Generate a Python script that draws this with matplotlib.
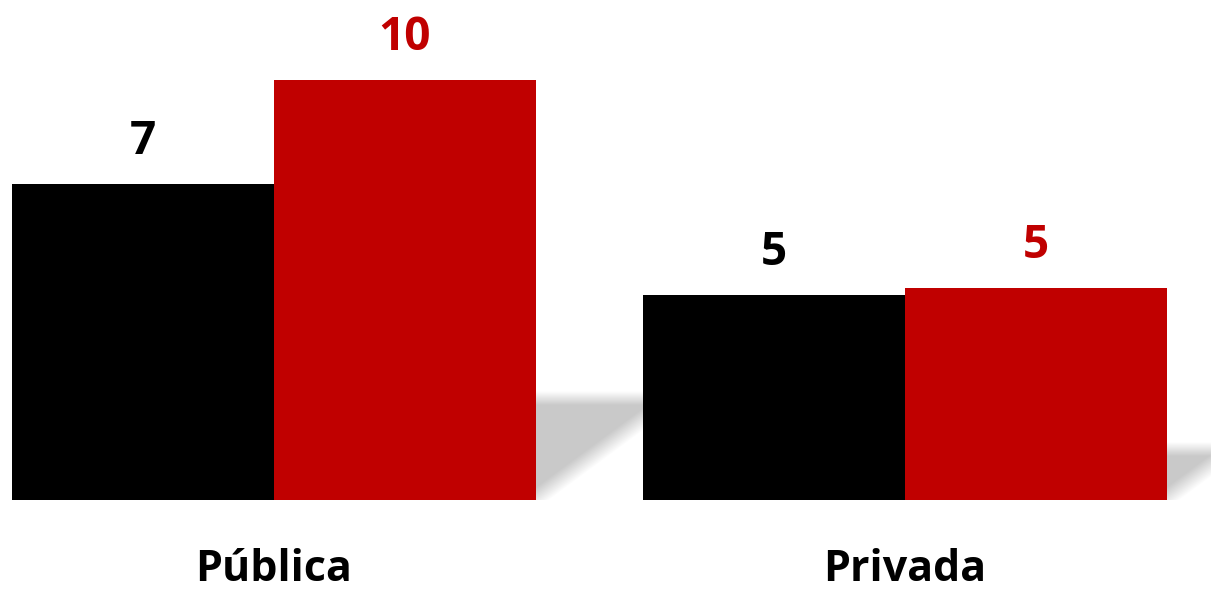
import matplotlib.pyplot as plt
import numpy as np

categories = ['Pública', 'Privada']
serie_a = [7.35, 4.77]   # barras pretas
serie_b = [9.77, 4.93]   # barras vermelhas

COR_A = '#000000'
COR_B = '#c00000'

plt.rcParams['font.family'] = ['Open Sans', 'DejaVu Sans']

fig = plt.figure(figsize=(12.11, 5.91), dpi=100)
ax = fig.add_axes([0, 91 / 591, 1, 500 / 591])

x = np.arange(len(categories))
w = 262 / 631
x0 = -274 / 631
ax.set_xlim(x0, x0 + 1211 / 631)
ax.set_ylim(0, 500 / 43)

ax.bar(x - w / 2, serie_a, w, color=COR_A, zorder=3)
ax.bar(x + w / 2, serie_b, w, color=COR_B, zorder=3)

# sombra projetada à direita de cada grupo
px_x = 631.0
px_y = 43.0
gx = np.linspace(x0, x0 + 1211 / 631, 1211)
gy = np.linspace(0, 500 / 43, 500)
XX, YY = np.meshgrid(gx, gy)
alpha = np.zeros_like(XX)
for i, v in enumerate(serie_b):
    xr = x[i] + w
    hs = 0.245 * v
    d_top = (hs - YY) * px_y
    d_diag = (YY - (XX - xr) * 0.74 * px_x / px_y) * px_y * 0.8
    a = np.clip(d_top / 14 + 0.4, 0, 1) * np.clip(d_diag / 18 + 0.45, 0, 1)
    a[XX < xr] = 0
    alpha = np.maximum(alpha, a)
img = np.zeros(alpha.shape + (4,))
img[..., :3] = 0.79
img[..., 3] = alpha
ax.imshow(img, extent=(gx[0], gx[-1], gy[0], gy[-1]), origin='lower',
          aspect='auto', zorder=1, interpolation='bilinear')

for i in range(len(categories)):
    ax.text(x[i] - w / 2, serie_a[i] + 0.98, f'{serie_a[i]:.0f}', ha='center', va='center',
            fontsize=33, fontweight='bold', color=COR_A)
    ax.text(x[i] + w / 2, serie_b[i] + 0.98, f'{serie_b[i]:.0f}', ha='center', va='center',
            fontsize=33, fontweight='bold', color=COR_B)
    ax.text(x[i], -1.62, categories[i], ha='center', va='center',
            fontsize=31, fontweight='bold', color='black', clip_on=False)

ax.axis('off')
fig.savefig('out.png', dpi=100)
